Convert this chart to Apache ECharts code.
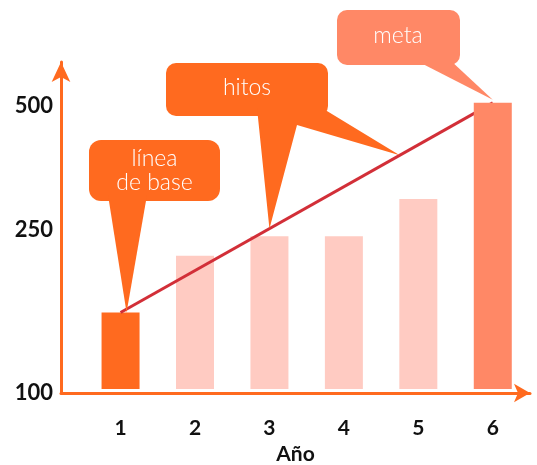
<!DOCTYPE html>
<html>
<head>
<meta charset="utf-8">
<script src="https://cdn.jsdelivr.net/npm/echarts@6/dist/echarts.min.js"></script>
<style>
  html, body { margin: 0; padding: 0; background: #fff; }
  #chart { width: 537px; height: 465px; }
</style>
</head>
<body>
<div id="chart"></div>
<script>
// Year on the horizontal axis, value of each year's bar
const years = [1, 2, 3, 4, 5, 6];
const values = [157, 216, 241, 241, 297, 509];
// Labelled values on the vertical axis
const yTicks = [100, 250, 500];
const xTitle = 'Año';
const calloutTexts = ['línea\nde base', 'hitos', 'meta'];

const ORANGE = '#FF6A1F';
const LIGHT = '#FFCBC2';
const GOAL = '#FF8866';
const RED = '#D22F38';
const FONT = 'Lato, "Open Sans", sans-serif';

const last = values.length - 1;
const barColor = i => (i === 0 ? ORANGE : i === last ? GOAL : LIGHT);

// [year, value, index] rows for the progress bars and the goal bar
const progressRows = years.slice(0, last).map((y, i) => [y, values[i], i]);
const goalRows = [[years[last], values[last], last]];

const BAR_W = 38;
const BAR_GAP = 4; // small white gap between bars and the axis line

function renderBar(params, api) {
  const x = api.value(0);
  const idx = api.value(2);
  const top = api.coord([x, api.value(1)]);
  const base = api.coord([x, yTicks[0]]);
  return {
    type: 'rect',
    shape: { x: top[0] - BAR_W / 2, y: top[1], width: BAR_W, height: base[1] - BAR_GAP - top[1] },
    style: { fill: barColor(idx) }
  };
}

const chart = echarts.init(document.getElementById('chart'), null, { renderer: 'canvas' });

chart.setOption({
  animation: false,
  backgroundColor: '#fff',
  grid: { left: 61, right: 7, top: 62, bottom: 72, containLabel: false, outerBoundsMode: 'none' },
  xAxis: {
    type: 'value',
    min: 0.2,
    max: 6.5,
    name: xTitle,
    nameLocation: 'middle',
    nameGap: 51,
    nameTextStyle: { fontFamily: FONT, fontWeight: 'bold', fontSize: 21, color: '#111' },
    axisLine: {
      show: true,
      lineStyle: { color: ORANGE, width: 3 },
      symbol: ['none', 'arrow'],
      symbolSize: [14, 16]
    },
    axisTick: { show: false },
    splitLine: { show: false },
    axisLabel: {
      customValues: years,
      margin: 25,
      fontFamily: FONT,
      fontWeight: 'bold',
      fontSize: 21,
      color: '#111',
      formatter: v => String(v)
    }
  },
  yAxis: {
    type: 'log',
    min: 100,
    max: 640,
    axisLine: {
      show: true,
      lineStyle: { color: ORANGE, width: 3 },
      symbol: ['none', 'arrow'],
      symbolSize: [14, 20]
    },
    axisTick: { show: false },
    splitLine: { show: false },
    axisLabel: {
      customValues: yTicks,
      margin: 8,
      fontFamily: FONT,
      fontWeight: 'bold',
      fontSize: 22,
      color: '#111',
      formatter: v => String(Math.round(v))
    }
  },
  series: [
    {
      type: 'custom',
      name: 'progreso',
      renderItem: renderBar,
      encode: { x: 0, y: 1 },
      data: progressRows,
      z: 2
    },
    {
      type: 'line',
      name: 'tendencia',
      data: [[years[0], values[0]], [years[last], values[last]]],
      symbol: 'none',
      lineStyle: { color: RED, width: 3 },
      z: 3
    },
    {
      type: 'custom',
      name: 'meta',
      renderItem: renderBar,
      encode: { x: 0, y: 1 },
      data: goalRows,
      z: 4
    }
  ]
});

// Speech-bubble callouts pointing at the baseline, the milestones and the goal
const px = d => chart.convertToPixel({ xAxisIndex: 0, yAxisIndex: 0 }, d);
const pStart = px([years[0], values[0]]);
const pEnd = px([years[last], values[last]]);
const onTrend = t => [pStart[0] + t * (pEnd[0] - pStart[0]), pStart[1] + t * (pEnd[1] - pStart[1])];
const tipBase = [pStart[0] + 6, pStart[1]];
const tipMile1 = onTrend((years[2] - years[0]) / (years[last] - years[0]));
const tipMile2 = onTrend(0.75);
const tipGoal = [pEnd[0], pEnd[1] - 3];

const bubbleText = (x, y, text) => ({
  type: 'text',
  x, y,
  z: 20,
  style: {
    text,
    fill: '#fff',
    font: '300 23px ' + FONT,
    align: 'center',
    verticalAlign: 'middle',
    lineHeight: 24
  }
});

chart.setOption({
  graphic: [
    // baseline
    { type: 'rect', z: 10, shape: { x: 89, y: 140, width: 131, height: 61, r: 12 }, style: { fill: ORANGE } },
    { type: 'polygon', z: 10, shape: { points: [[108, 195], [147, 195], tipBase] }, style: { fill: ORANGE } },
    bubbleText(154.5, 171, calloutTexts[0]),
    // milestones
    { type: 'rect', z: 10, shape: { x: 166, y: 63, width: 162, height: 53, r: 10 }, style: { fill: ORANGE } },
    { type: 'polygon', z: 10, shape: { points: [[257, 108], tipMile1, [297, 125], tipMile2, [322, 108]] }, style: { fill: ORANGE } },
    bubbleText(247, 88, calloutTexts[1]),
    // goal
    { type: 'rect', z: 10, shape: { x: 337, y: 10, width: 123, height: 55, r: 10 }, style: { fill: GOAL } },
    { type: 'polygon', z: 10, shape: { points: [[415, 60], [450, 60], tipGoal] }, style: { fill: GOAL } },
    bubbleText(398, 36, calloutTexts[2])
  ]
});
</script>
</body>
</html>
